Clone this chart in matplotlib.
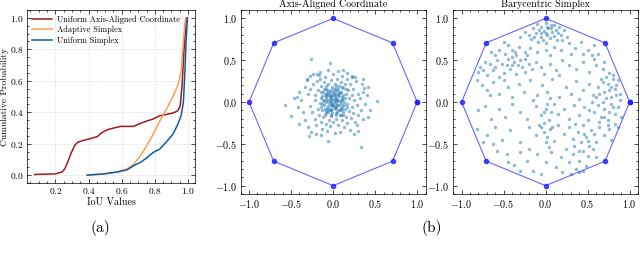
import numpy as np
import matplotlib
matplotlib.use('Agg')
import matplotlib.pyplot as plt

########## STYLE ##########
plt.rcParams['font.family'] = ['cmr10', 'DejaVu Serif']
plt.rcParams['mathtext.fontset'] = 'cm'
plt.rcParams['axes.formatter.use_mathtext'] = True
plt.rcParams['axes.unicode_minus'] = True
plt.rcParams['font.size'] = 7
plt.rcParams['axes.linewidth'] = 0.5
for ax_ in ['xtick', 'ytick']:
    plt.rcParams[ax_ + '.direction'] = 'in'
    plt.rcParams[ax_ + '.major.size'] = 3
    plt.rcParams[ax_ + '.minor.size'] = 1.5
    plt.rcParams[ax_ + '.major.width'] = 0.5
    plt.rcParams[ax_ + '.minor.width'] = 0.5
    plt.rcParams[ax_ + '.minor.visible'] = True
    plt.rcParams[ax_ + '.labelsize'] = 6.8
    plt.rcParams[ax_ + '.major.pad'] = 2.5
plt.rcParams['xtick.top'] = True
plt.rcParams['ytick.right'] = True

########## DATA ##########
# CDF curves (panel a)
red_x = [0.075, 0.20, 0.24, 0.257, 0.277, 0.297, 0.317, 0.336, 0.376, 0.415, 0.455, 0.475,
         0.514, 0.554, 0.593, 0.672, 0.712, 0.751, 0.79, 0.83, 0.87, 0.909, 0.939, 0.953,
         0.964, 0.976, 0.988, 0.996]
red_y = [0.004, 0.008, 0.02, 0.04, 0.09, 0.145, 0.19, 0.21, 0.223, 0.233, 0.246, 0.267,
         0.289, 0.30, 0.31, 0.31, 0.329, 0.344, 0.357, 0.378, 0.386, 0.395, 0.41, 0.44,
         0.57, 0.80, 0.97, 1.0]
orange_x = [0.392, 0.494, 0.573, 0.633, 0.672, 0.712, 0.751, 0.79, 0.83, 0.87, 0.909, 0.939,
            0.958, 0.968, 0.98, 0.986]
orange_y = [0.0, 0.008, 0.02, 0.04, 0.068, 0.123, 0.187, 0.26, 0.346, 0.42, 0.50, 0.573,
            0.654, 0.80, 0.95, 1.0]
blue_x = [0.392, 0.494, 0.573, 0.633, 0.672, 0.712, 0.751, 0.79, 0.83, 0.87, 0.909, 0.939,
          0.958, 0.972, 0.98, 0.988, 0.996]
blue_y = [0.0, 0.008, 0.02, 0.034, 0.06, 0.08, 0.11, 0.144, 0.166, 0.212, 0.26, 0.325,
          0.378, 0.463, 0.633, 0.845, 1.0]

# octagon vertices
oct_x = [1.0, 0.707, 0.0, -0.707, -1.0, -0.707, 0.0, 0.707, 1.0]
oct_y = [0.0, 0.707, 1.0, 0.707, 0.0, -0.707, -1.0, -0.707, 0.0]

# Axis-Aligned Coordinate samples
aa_pts = [
    (-0.26, 0.51), (-0.04, 0.47), (0.12, 0.38), (0.23, 0.31), (0.37, 0.17), (0.41, 0.18),
    (-0.57, -0.03), (-0.50, -0.17), (-0.41, -0.26), (-0.47, 0.05), (-0.43, 0.06), (0.52, 0.01),
    (0.44, -0.10), (0.41, -0.18), (-0.29, -0.41), (-0.06, -0.47), (0.33, -0.54), (-0.19, 0.34),
    (-0.17, 0.32), (-0.31, 0.27),
    (-0.30, 0.10), (-0.28, -0.05), (-0.27, 0.15), (-0.25, -0.12), (-0.24, 0.22), (-0.22, 0.02),
    (-0.22, -0.20), (-0.21, 0.08), (-0.20, -0.28), (-0.19, 0.25), (-0.18, -0.08), (-0.18, 0.14),
    (-0.17, -0.15), (-0.16, 0.28), (-0.15, 0.05), (-0.15, -0.24), (-0.14, 0.19), (-0.13, -0.02),
    (-0.13, -0.32), (-0.12, 0.12), (-0.12, -0.18), (-0.11, 0.24), (-0.10, -0.08), (-0.10, 0.30),
    (-0.09, 0.04), (-0.09, -0.26), (-0.08, 0.16), (-0.08, -0.13), (-0.07, -0.35), (-0.07, 0.09),
    (-0.06, 0.21), (-0.06, -0.05), (-0.05, -0.21), (-0.05, 0.13), (-0.04, 0.02), (-0.04, -0.29),
    (-0.03, 0.26), (-0.03, -0.10), (-0.02, 0.07), (-0.02, -0.16), (-0.01, 0.18), (-0.01, -0.02),
    (0.00, 0.33), (0.00, -0.24), (0.01, 0.11), (0.01, -0.07), (0.02, 0.22), (0.02, -0.37),
    (0.03, 0.04), (0.03, -0.13), (0.04, 0.15), (0.04, -0.20), (0.05, 0.28), (0.05, -0.03),
    (0.06, 0.09), (0.06, -0.27), (0.07, 0.19), (0.07, -0.09), (0.08, 0.01), (0.08, -0.16),
    (0.09, 0.24), (0.09, 0.12), (0.10, -0.05), (0.10, -0.22), (0.11, 0.06), (0.11, 0.31),
    (0.12, -0.12), (0.12, 0.17), (0.13, -0.30), (0.13, 0.00), (0.14, 0.21), (0.14, -0.08),
    (0.15, 0.10), (0.15, -0.18), (0.16, 0.27), (0.17, -0.02), (0.17, -0.25), (0.18, 0.14),
    (0.19, -0.11), (0.19, 0.05), (0.20, 0.22), (0.21, -0.19), (0.22, 0.09), (0.22, -0.06),
    (0.24, 0.16), (0.24, -0.13), (0.25, 0.02), (0.26, -0.24), (0.27, 0.25), (0.28, -0.04),
    (0.29, 0.10), (0.30, -0.15), (0.32, 0.05), (0.33, -0.09), (0.35, 0.12), (0.36, -0.20),
    (-0.12, 0.03), (-0.11, -0.04), (-0.10, 0.09), (-0.09, -0.11), (-0.08, 0.00), (-0.08, 0.06),
    (-0.07, -0.07), (-0.07, 0.14), (-0.06, 0.03), (-0.06, -0.12), (-0.05, 0.08), (-0.05, -0.01),
    (-0.04, 0.11), (-0.04, -0.08), (-0.03, 0.05), (-0.03, -0.04), (-0.02, 0.14), (-0.02, 0.01),
    (-0.02, -0.09), (-0.01, 0.08), (-0.01, -0.13), (0.00, 0.04), (0.00, -0.03), (0.00, 0.12),
    (0.01, 0.00), (0.01, 0.16), (0.02, -0.05), (0.02, 0.07), (0.03, 0.13), (0.03, -0.01),
    (0.04, -0.08), (0.04, 0.05), (0.05, 0.10), (0.05, -0.12), (0.06, 0.02), (0.06, 0.15),
    (0.07, -0.04), (0.07, 0.07), (0.08, -0.10), (0.08, 0.11), (0.09, -0.01), (0.10, 0.04),
    (0.11, -0.08), (0.12, 0.08), (0.13, -0.03), (-0.14, -0.06), (-0.13, 0.07), (-0.15, 0.12),
    (-0.16, -0.01), (0.14, 0.05), (0.16, -0.06), (0.15, 0.15), (-0.10, -0.16), (0.09, -0.15),
    (-0.03, -0.17), (0.03, 0.19), (-0.08, 0.19), (0.10, 0.18),
    (-0.38, 0.02), (-0.36, -0.12), (-0.34, 0.18), (-0.33, -0.22), (-0.31, 0.26), (-0.30, -0.30),
    (-0.26, -0.36), (-0.24, 0.34), (-0.20, -0.38), (-0.16, 0.36), (-0.14, -0.40), (-0.06, 0.38),
    (0.06, 0.37), (0.08, -0.36), (0.16, 0.35), (0.20, -0.33), (0.26, 0.30), (0.28, -0.28),
    (0.34, 0.22), (0.38, -0.02), (0.40, 0.08), (0.30, -0.35), (0.22, 0.30), (-0.42, -0.06),
    (-0.40, 0.12), (0.25, -0.38), (-0.28, 0.31), (0.36, 0.28),
    (-0.11, 0.01), (-0.09, 0.10), (-0.06, -0.09), (-0.04, 0.06), (-0.01, -0.05), (0.01, 0.09),
    (0.03, -0.06), (0.05, 0.01), (0.07, 0.12), (0.09, -0.07), (0.11, 0.02), (-0.13, -0.10),
    (0.02, 0.03), (-0.02, -0.01), (0.04, -0.15), (-0.07, 0.11), (0.12, -0.16), (-0.11, 0.16),
]

# Barycentric Simplex samples
bs_pts = [
    (-0.10, 0.93), (-0.05, 0.90), (0.00, 0.95), (0.03, 0.88), (0.06, 0.92), (-0.02, 0.85),
    (0.08, 0.84), (0.12, 0.86), (-0.08, 0.86), (0.02, 0.80), (-0.12, 0.82), (0.10, 0.79),
    (0.15, 0.83), (-0.15, 0.88), (0.05, 0.76), (-0.05, 0.78), (0.00, 0.83), (0.18, 0.80),
    (-0.20, 0.80), (0.07, 0.88), (-0.03, 0.74), (0.13, 0.74), (-0.25, 0.84), (0.22, 0.86),
    (-0.09, 0.72), (0.20, 0.74), (0.01, 0.70), (-0.17, 0.75), (0.25, 0.78), (-0.30, 0.78),
    (-0.65, 0.60), (-0.55, 0.62), (-0.45, 0.68), (-0.40, 0.62), (-0.32, 0.66), (-0.25, 0.60),
    (-0.18, 0.65), (-0.10, 0.60), (0.00, 0.62), (0.10, 0.66), (0.18, 0.62), (0.28, 0.70),
    (0.35, 0.65), (0.42, 0.72), (0.50, 0.62), (0.58, 0.68), (0.62, 0.58), (0.45, 0.58),
    (0.30, 0.57), (-0.60, 0.56), (-0.35, 0.56), (0.05, 0.56), (0.55, 0.56), (-0.50, 0.72),
    (-0.80, 0.36), (-0.78, 0.42), (-0.72, 0.48), (-0.66, 0.45), (-0.62, 0.38), (-0.58, 0.50),
    (-0.52, 0.46), (-0.50, 0.35), (-0.45, 0.52), (-0.42, 0.40), (-0.38, 0.48), (-0.35, 0.33),
    (-0.30, 0.50), (-0.28, 0.42), (-0.24, 0.36), (-0.20, 0.46), (-0.16, 0.40), (-0.70, 0.32),
    (-0.55, 0.30), (-0.40, 0.54), (-0.25, 0.52), (-0.33, 0.44), (-0.46, 0.44), (-0.60, 0.42),
    (-0.75, 0.38), (-0.12, 0.48), (-0.05, 0.42), (0.05, 0.45), (0.12, 0.38), (0.20, 0.50),
    (0.28, 0.44), (0.36, 0.40), (0.44, 0.48), (0.52, 0.36), (0.60, 0.44), (0.68, 0.40),
    (0.75, 0.35), (0.70, 0.48), (0.58, 0.52), (0.80, 0.32), (0.16, 0.32), (-0.02, 0.34),
    (-0.82, 0.26), (-0.76, 0.20), (-0.70, 0.14), (-0.62, 0.24), (-0.55, 0.10), (-0.45, 0.18),
    (-0.40, 0.06), (-0.32, 0.22), (-0.26, 0.12), (-0.18, 0.26), (-0.10, 0.08), (-0.04, 0.20),
    (0.02, 0.12), (0.08, 0.27), (0.16, 0.06), (0.24, 0.18), (0.30, 0.10), (0.36, 0.25),
    (0.45, 0.14), (0.52, 0.22), (0.56, 0.08), (0.62, 0.18), (0.66, 0.28), (0.70, 0.12),
    (0.74, 0.22), (0.78, 0.06), (0.82, 0.16), (0.86, 0.26), (0.88, 0.10), (0.80, 0.28),
    (0.72, 0.05), (0.68, 0.24), (0.60, 0.06), (0.76, 0.14), (0.84, 0.20), (-0.66, 0.08),
    (-0.50, 0.26), (0.05, 0.05), (-0.15, 0.02), (0.40, 0.04),
    (-0.80, -0.10), (-0.72, -0.05), (-0.65, -0.20), (-0.55, -0.08), (-0.48, -0.18), (-0.40, -0.02),
    (-0.30, -0.12), (-0.22, -0.20), (-0.12, -0.05), (-0.05, -0.15), (0.00, -0.08), (0.04, -0.22),
    (0.10, -0.02), (0.15, -0.14), (0.22, -0.08), (0.28, -0.20), (0.34, -0.04), (0.40, -0.15),
    (0.46, -0.06), (0.50, -0.22), (0.55, 0.00), (0.58, -0.12), (0.62, -0.04), (0.66, -0.18),
    (0.70, -0.08), (0.74, -0.22), (0.78, -0.02), (0.82, -0.14), (0.86, -0.06), (0.90, -0.18),
    (0.88, 0.02), (0.76, -0.12), (0.68, 0.00), (0.64, -0.24), (0.52, -0.10), (0.02, -0.02),
    (-0.02, -0.25), (0.06, -0.12),
    (-0.82, -0.32), (-0.70, -0.40), (-0.60, -0.30), (-0.52, -0.45), (-0.42, -0.34), (-0.30, -0.48),
    (-0.20, -0.30), (-0.12, -0.40), (-0.05, -0.30), (-0.02, -0.36), (0.02, -0.42), (0.05, -0.32),
    (0.10, -0.46), (0.15, -0.28), (0.22, -0.38), (0.28, -0.30), (0.32, -0.44), (0.38, -0.36),
    (0.44, -0.28), (0.48, -0.42), (0.54, -0.34), (0.60, -0.48), (0.64, -0.30), (0.70, -0.40),
    (0.76, -0.32), (0.82, -0.26), (0.78, -0.45), (0.58, -0.38), (0.42, -0.48), (0.35, -0.26),
    (0.00, -0.48), (-0.08, -0.28), (-0.62, -0.50), (-0.75, -0.48),
    (-0.58, -0.58), (-0.46, -0.62), (-0.38, -0.75), (-0.30, -0.60), (-0.22, -0.70), (-0.15, -0.82),
    (-0.10, -0.62), (0.00, -0.72), (0.06, -0.60), (0.12, -0.78), (0.18, -0.66), (0.24, -0.56),
    (0.28, -0.72), (0.32, -0.62), (0.36, -0.80), (0.40, -0.70), (0.44, -0.58), (0.48, -0.76),
    (0.50, -0.64), (0.56, -0.56), (0.60, -0.66), (0.40, -0.84), (0.30, -0.86), (-0.30, -0.82),
    (-0.45, -0.72), (0.20, -0.84), (-0.05, -0.86), (0.45, -0.82), (0.52, -0.52), (-0.20, -0.56),
    (0.72, 0.30), (0.78, 0.18), (0.84, 0.08), (0.80, -0.06), (0.74, -0.28), (0.86, -0.30),
    (0.70, -0.18), (0.64, 0.10), (-0.36, 0.60), (-0.48, 0.58), (-0.40, 0.44), (-0.22, 0.56),
    (0.02, 0.90), (-0.06, 0.82), (0.10, 0.92), (0.16, 0.90), (-0.14, 0.78), (0.04, -0.54),
    (0.08, -0.30), (-0.02, -0.12), (0.46, -0.38), (0.40, -0.58), (0.50, -0.46), (0.34, -0.52),
]

########## FIGURE ##########
fig = plt.figure(figsize=(6.4, 2.57), dpi=100)

# panel (a)
ax1 = fig.add_axes([0.0422, 0.288, 0.2625, 0.673])
ax1.plot(red_x, red_y, color='#9b1c20', lw=1.1, label='Uniform Axis-Aligned Coordinate')
ax1.plot(orange_x, orange_y, color='#ffa04d', lw=1.1, label='Adaptive Simplex')
ax1.plot(blue_x, blue_y, color='#0c5da5', lw=1.1, label='Uniform Simplex')
ax1.set_xticks([0.2, 0.4, 0.6, 0.8, 1.0])
ax1.set_yticks([0.0, 0.2, 0.4, 0.6, 0.8, 1.0])
ax1.grid(True, color='#c8c8c8', lw=0.5, ls=':')
ax1.set_xlabel('IoU Values', fontsize=7.2, labelpad=1)
ax1.set_ylabel('Cumulative Probability', fontsize=6.9, labelpad=0.5)
ax1.legend(loc='upper left', frameon=False, fontsize=6.0, handlelength=2.4,
           borderaxespad=0.25, labelspacing=0.25, handletextpad=0.6)

# panel (b)
def simplex_panel(pos, pts, title):
    ax = fig.add_axes(pos)
    px = [p[0] for p in pts]
    py = [p[1] for p in pts]
    ax.scatter(px, py, s=6, color='#1f77b4', alpha=0.5, linewidths=0)
    ax.plot(oct_x, oct_y, color='#3333ff', lw=0.8, alpha=0.75,
            marker='o', markersize=3, markerfacecolor='#1a1aff', markeredgecolor='#1a1aff')
    ax.set_xlim(-1.1, 1.1)
    ax.set_ylim(-1.1, 1.1)
    ax.set_xticks([-1.0, -0.5, 0.0, 0.5, 1.0])
    ax.set_yticks([-1.0, -0.5, 0.0, 0.5, 1.0])
    ax.tick_params(axis='both', which='major', labelsize=7.3)
    ax.set_title(title, fontsize=7.2, pad=2)
    return ax

ax2 = simplex_panel([0.376, 0.245, 0.289, 0.716], aa_pts, 'Axis-Aligned Coordinate')
ax3 = simplex_panel([0.708, 0.245, 0.289, 0.716], bs_pts, 'Barycentric Simplex')

fig.text(100 / 640, 1 - 228 / 257, '(a)', ha='center', va='center', fontsize=11)
fig.text(432 / 640, 1 - 228 / 257, '(b)', ha='center', va='center', fontsize=11)

fig.savefig('out.png', dpi=100)
